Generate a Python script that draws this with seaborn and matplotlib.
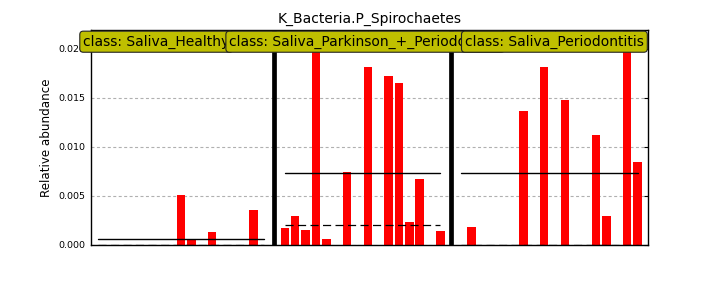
import numpy as np
import pandas as pd
import matplotlib
matplotlib.use("Agg")
import matplotlib.pyplot as plt
import matplotlib.transforms as mtransforms
import seaborn as sns

# ---------------- data ----------------
title = "K_Bacteria.P_Spirochaetes"
ylabel = "Relative abundance"
class_names = ["Saliva_Healthy", "Saliva_Parkinson_+_Periodontitis", "Saliva_Periodontitis"]
healthy = [0, 0, 0, 0, 0, 0, 0, 0, 0.0051, 0.0006, 0, 0.0013, 0, 0, 0, 0.0036, 0]
parkinson = [0.0017, 0.0030, 0.0015, 0.0405, 0.0006, 0, 0.0074, 0, 0.0181, 0,
             0.0172, 0.0165, 0.0023, 0.0067, 0, 0.0014]
periodontitis = [0, 0.0018, 0, 0, 0, 0, 0.0137, 0, 0.0181, 0, 0.0148, 0, 0,
                 0.0112, 0.0030, 0, 0.0603, 0.0085]
yticks = [0.000, 0.005, 0.010, 0.015, 0.020]
ytick_labels = ["0.000", "0.005", "0.010", "0.015", "0.020"]

groups = [healthy, parkinson, periodontitis]

BLACK = "#000000"
BOX = (0.75, 0.75, 0.0)

# ---------------- layout ----------------
rows, starts = [], []
pos = 0
for name, vals in zip(class_names, groups):
    starts.append(pos)
    for i, v in enumerate(vals):
        rows.append({"pos": pos + i, "val": v, "cls": name})
    pos += len(vals) + 1
df = pd.DataFrame(rows)

sns.set_theme(style="white")
plt.rcParams["font.family"] = ["DejaVu Sans"]

fig = plt.figure(figsize=(7.2, 2.88), dpi=100)
ax = fig.add_axes([91 / 720, 43 / 288, 557 / 720, 215 / 288])

sns.barplot(data=df, x="pos", y="val", native_scale=True, color="#ff0000",
            saturation=1, width=0.82, errorbar=None, linewidth=0, ax=ax)

# mean (solid) and median (dashed) lines per class
for s, vals in zip(starts, groups):
    x0, x1 = s, s + len(vals) - 1
    ax.plot([x0, x1], [np.mean(vals)] * 2, color=BLACK, lw=1.0, zorder=4)
    ax.plot([x0, x1], [np.median(vals)] * 2, color=BLACK, lw=0.9,
            dashes=(6.5, 3.5), zorder=2)

# class separators
for s in starts[1:]:
    ax.axvline(s - 1, color=BLACK, lw=3.4, zorder=5)

ax.set_xlim(-0.675, 53.01)
ax.set_ylim(0, 0.0219)
ax.set_yticks(yticks)
ax.set_yticklabels(ytick_labels)
ax.set_xticks([8.0, 26.05, 44.07])
ax.set_xticklabels([])
ax.set_xlabel("")
ax.set_ylabel(ylabel, fontsize=8.6, color=BLACK)
ax.tick_params(axis="both", direction="in", top=True, right=True, length=3,
               width=0.8, colors=BLACK, labelsize=6.8, pad=4)
ax.tick_params(axis="x", length=3.5)

ax.yaxis.grid(True, color="#b0b0b0", lw=0.8, linestyle=(0, (2.7, 2.2)))
ax.xaxis.grid(False)
ax.set_axisbelow(True)
for sp in ax.spines.values():
    sp.set_color(BLACK)
    sp.set_linewidth(1.0)
    sp.set_zorder(3)

ax.set_title(title, fontsize=10, pad=4.8, color=BLACK)

trans = mtransforms.blended_transform_factory(ax.transData, ax.transAxes)
label_x = [-1.42, 12.66, 35.37]
for lx, name in zip(label_x, class_names):
    ax.text(lx, 0.9456, "class: " + name, transform=trans, ha="left",
            va="center", fontsize=10, color=BLACK, zorder=6,
            bbox=dict(boxstyle="round,pad=0.25", fc=BOX, ec="#222222", lw=0.8))

fig.savefig("out.png", dpi=100)
